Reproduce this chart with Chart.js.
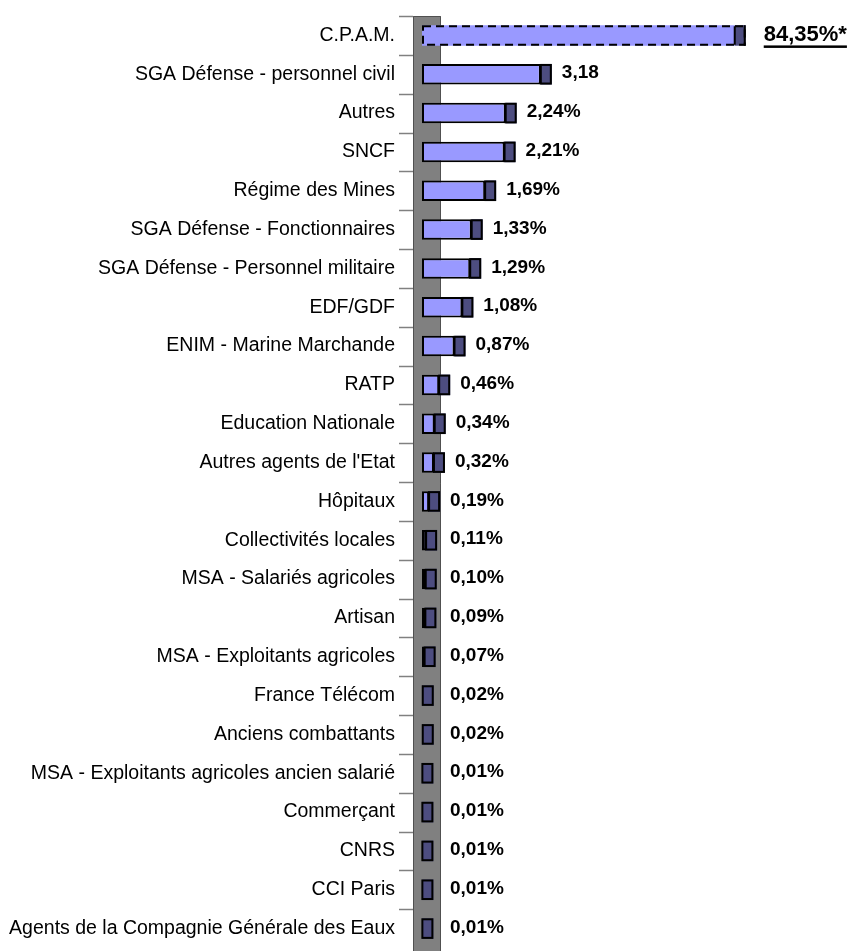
<!DOCTYPE html>
<html>
<head>
<meta charset="utf-8">
<script src="https://cdn.jsdelivr.net/npm/chart.js@4"></script>
<style>
  body { margin: 0; background: #fff; }
</style>
</head>
<body>
<canvas id="chart" width="851" height="951"></canvas>
<script>
const categories = [
  'C.P.A.M.',
  'SGA Défense - personnel civil',
  'Autres',
  'SNCF',
  'Régime des Mines',
  'SGA Défense - Fonctionnaires',
  'SGA Défense - Personnel militaire',
  'EDF/GDF',
  'ENIM - Marine Marchande',
  'RATP',
  'Education Nationale',
  "Autres agents de l'Etat",
  'Hôpitaux',
  'Collectivités locales',
  'MSA - Salariés agricoles',
  'Artisan',
  'MSA - Exploitants agricoles',
  'France Télécom',
  'Anciens combattants',
  'MSA - Exploitants agricoles ancien salarié',
  'Commerçant',
  'CNRS',
  'CCI Paris',
  'Agents de la Compagnie Générale des Eaux'
];
const values = [84.35, 3.18, 2.24, 2.21, 1.69, 1.33, 1.29, 1.08, 0.87, 0.46, 0.34, 0.32,
  0.19, 0.11, 0.10, 0.09, 0.07, 0.02, 0.02, 0.01, 0.01, 0.01, 0.01, 0.01];
const valueLabels = ['84,35%*', '3,18', '2,24%', '2,21%', '1,69%', '1,33%', '1,29%', '1,08%',
  '0,87%', '0,46%', '0,34%', '0,32%', '0,19%', '0,11%', '0,10%', '0,09%', '0,07%',
  '0,02%', '0,02%', '0,01%', '0,01%', '0,01%', '0,01%', '0,01%'];
const brokenAt = 8.37; // the C.P.A.M. bar is cut off at this length

const LIGHT = '#9999FF';
const DARK = '#4d4d80';
const CAP = 11; // width of the 3D end face

// grey wall + little ticks on the category axis
const wallPlugin = {
  id: 'wall',
  beforeDatasetsDraw(chart) {
    const ctx = chart.ctx;
    const y = chart.scales.y;
    const left = chart.chartArea.left - 9;
    const right = chart.chartArea.left + 19;
    const top = y.getPixelForValue(-0.5);
    ctx.save();
    ctx.fillStyle = '#808080';
    ctx.fillRect(left, top, right - left, chart.height - top);
    ctx.strokeStyle = '#505050';
    ctx.lineWidth = 1;
    ctx.beginPath();
    ctx.moveTo(left + 0.5, chart.height);
    ctx.lineTo(left + 0.5, top + 0.5);
    ctx.lineTo(right - 0.5, top + 0.5);
    ctx.lineTo(right - 0.5, chart.height);
    ctx.stroke();
    ctx.strokeStyle = '#808080';
    ctx.lineWidth = 1.5;
    for (let i = 0; i < categories.length; i++) {
      const ty = Math.round(y.getPixelForValue(i - 0.5)) + 0.5;
      ctx.beginPath();
      ctx.moveTo(left - 14, ty);
      ctx.lineTo(left, ty);
      ctx.stroke();
    }
    ctx.restore();
  }
};

// dark end faces + value labels
const capPlugin = {
  id: 'caps',
  afterDatasetsDraw(chart) {
    const ctx = chart.ctx;
    const bars = chart.getDatasetMeta(0).data;
    const wallRight = chart.chartArea.left + 19;
    ctx.save();
    bars.forEach((bar, i) => {
      const h = bar.height;
      const top = bar.y - h / 2;
      const x0 = bar.x;
      ctx.fillStyle = DARK;
      ctx.fillRect(x0, top, CAP, h);
      ctx.strokeStyle = '#000';
      ctx.lineWidth = 2;
      if (values[i] > brokenAt) {
        ctx.setLineDash([8, 5]);
        ctx.strokeRect(bar.base + 1, top + 1, x0 + CAP - bar.base - 2, h - 2);
        ctx.setLineDash([]);
        ctx.beginPath();
        ctx.moveTo(x0, top + 1); ctx.lineTo(x0, top + h - 1);
        ctx.moveTo(x0 + CAP - 1, top); ctx.lineTo(x0 + CAP - 1, top + h);
        ctx.stroke();
      } else {
        ctx.strokeRect(x0, top + 1, CAP - 1, h - 2);
      }

      const end = x0 + CAP;
      ctx.fillStyle = '#000';
      ctx.textBaseline = 'middle';
      ctx.textAlign = 'left';
      if (values[i] > brokenAt) {
        ctx.font = 'bold 22px "Liberation Sans", Arial, sans-serif';
        const tx = end + 18;
        ctx.fillText(valueLabels[i], tx, bar.y);
        const w = ctx.measureText(valueLabels[i]).width;
        ctx.fillRect(tx, bar.y + 10, w, 2.5);
      } else {
        ctx.font = 'bold 19px "Liberation Sans", Arial, sans-serif';
        const tx = Math.max(end + 10, wallRight + 9);
        ctx.fillText(valueLabels[i], tx, bar.y - 1);
      }
    });
    ctx.restore();
  }
};

new Chart(document.getElementById('chart'), {
  type: 'bar',
  data: {
    labels: categories,
    datasets: [{
      data: values.map(v => Math.min(v, brokenAt)),
      backgroundColor: LIGHT,
      borderColor: '#000',
      borderWidth: c => values[c.dataIndex] > brokenAt ? 0 : 2,
      borderSkipped: false,
      barPercentage: 0.53,
      categoryPercentage: 1
    }]
  },
  options: {
    indexAxis: 'y',
    responsive: false,
    animation: false,
    devicePixelRatio: 1,
    layout: { padding: { top: 16, bottom: 3, right: 18, left: 0 } },
    plugins: { legend: { display: false }, tooltip: { enabled: false } },
    scales: {
      x: { display: false, min: 0, max: 11 },
      y: {
        afterFit: s => { s.width = 422; s.paddingTop = 0; s.paddingBottom = 0; },
        grid: { display: false, drawTicks: false, tickLength: 0 },
        border: { display: false },
        ticks: {
          autoSkip: false,
          padding: 27,
          color: '#000',
          font: { family: '"Liberation Sans", Arial, sans-serif', size: 19.5 }
        }
      }
    }
  },
  plugins: [wallPlugin, capPlugin]
});
</script>
</body>
</html>
